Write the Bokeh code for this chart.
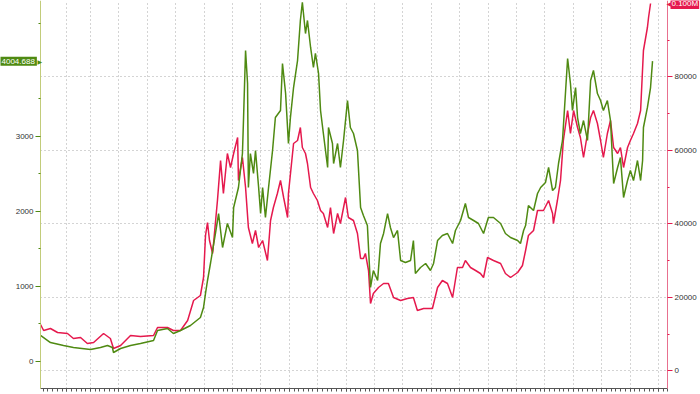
from bokeh.plotting import figure
from bokeh.models import Range1d, LinearAxis, FixedTicker, Grid, Label, CustomJSTickFormatter
from bokeh.embed import file_html
from bokeh.resources import INLINE

# ---- data (decimal years) ----
green_x = [1998.24, 1998.59, 1999.05, 1999.40, 2000.00, 2000.35, 2000.60, 2000.77, 2000.81, 2001.06,
           2001.41, 2001.76, 2002.22, 2002.36, 2002.71, 2002.92, 2003.17, 2003.52, 2003.87, 2003.98,
           2004.05, 2004.12, 2004.23, 2004.40, 2004.51, 2004.65, 2004.82, 2005.00, 2005.04, 2005.21,
           2005.35, 2005.39, 2005.46, 2005.53, 2005.56, 2005.63, 2005.74, 2005.81, 2005.92, 2005.99,
           2006.06, 2006.16, 2006.27, 2006.41, 2006.51, 2006.69, 2006.76, 2006.87, 2006.97, 2007.04,
           2007.15, 2007.29, 2007.39, 2007.46, 2007.57, 2007.64, 2007.75, 2007.85, 2007.92, 2008.03,
           2008.10, 2008.20, 2008.35, 2008.38, 2008.52, 2008.56, 2008.70, 2008.80, 2008.91, 2009.05,
           2009.15, 2009.26, 2009.40, 2009.51, 2009.61, 2009.75, 2009.86, 2009.96, 2010.11, 2010.21,
           2010.32, 2010.46, 2010.56, 2010.67, 2010.81, 2010.92, 2011.09, 2011.27, 2011.37, 2011.44,
           2011.62, 2011.80, 2011.97, 2012.08, 2012.22, 2012.39, 2012.57, 2012.75, 2012.85, 2013.03,
           2013.20, 2013.31, 2013.49, 2013.66, 2013.84, 2014.01, 2014.19, 2014.44, 2014.61, 2014.79,
           2015.04, 2015.14, 2015.25, 2015.32, 2015.42, 2015.60, 2015.74, 2015.85, 2016.02, 2016.13,
           2016.27, 2016.37, 2016.48, 2016.62, 2016.73, 2016.80, 2016.90, 2016.97, 2017.08, 2017.15,
           2017.25, 2017.36, 2017.50, 2017.61, 2017.71, 2017.85, 2017.96, 2018.06, 2018.20, 2018.31,
           2018.42, 2018.56, 2018.66, 2018.77, 2018.91, 2019.01, 2019.12, 2019.26, 2019.37, 2019.44,
           2019.47, 2019.61, 2019.72, 2019.79]
green_y = [347, 253, 213, 187, 160, 187, 213, 187, 120, 173,
           213, 240, 280, 413, 440, 373, 413, 480, 587, 720,
           907, 1080, 1320, 1707, 1973, 1520, 1840, 1653, 2053, 2320,
           2773, 3253, 4147, 3707, 2320, 2773, 2507, 2813, 2320, 1973,
           2320, 1920, 2320, 2813, 3253, 3347, 3973, 3573, 2907, 3253,
           3653, 4013, 4547, 4790, 4373, 4547, 4187, 3920, 4107, 3840,
           3347, 3040, 2587, 3120, 2907, 2640, 2907, 2587, 2947, 3480,
           3120, 3040, 2813, 2053, 1947, 1813, 987, 1213, 1080, 1573,
           1707, 1973, 1787, 1653, 1747, 1347, 1320, 1347, 1613, 1173,
           1253, 1307, 1213, 1307, 1613, 1680, 1707, 1573, 1747, 1880,
           2107, 1920, 1880, 1840, 1707, 1920, 1920, 1840, 1707, 1653,
           1613, 1573, 1747, 1813, 2080, 2013, 2240, 2320, 2387, 2587,
           2280, 2320, 2640, 2947, 3613, 4040, 3707, 3347, 3653, 3253,
           3040, 3213, 2947, 3747, 3880, 3573, 3480, 3347, 3480, 3213,
           2373, 2587, 2720, 2187, 2413, 2547, 2413, 2680, 2413, 2680,
           3120, 3387, 3653, 4004.688]

red_x = [1998.24, 1998.35, 1998.59, 1998.84, 1999.19, 1999.40, 1999.65, 1999.89, 2000.11, 2000.46,
         2000.70, 2000.81, 2001.06, 2001.41, 2001.76, 2002.22, 2002.36, 2002.71, 2002.92, 2003.17,
         2003.42, 2003.63, 2003.87, 2003.98, 2004.05, 2004.12, 2004.19, 2004.30, 2004.47, 2004.58,
         2004.68, 2004.82, 2004.93, 2005.04, 2005.18, 2005.21, 2005.35, 2005.46, 2005.56, 2005.70,
         2005.81, 2005.92, 2006.06, 2006.23, 2006.34, 2006.44, 2006.58, 2006.69, 2006.80, 2006.94,
         2006.97, 2007.15, 2007.29, 2007.39, 2007.46, 2007.57, 2007.64, 2007.75, 2007.85, 2007.99,
         2008.10, 2008.20, 2008.35, 2008.45, 2008.56, 2008.70, 2008.80, 2008.98, 2009.08, 2009.26,
         2009.40, 2009.51, 2009.61, 2009.68, 2009.79, 2009.86, 2009.96, 2010.14, 2010.32, 2010.49,
         2010.67, 2010.92, 2011.16, 2011.37, 2011.51, 2011.73, 2012.04, 2012.22, 2012.39, 2012.57,
         2012.75, 2012.92, 2013.10, 2013.20, 2013.38, 2013.56, 2013.73, 2013.84, 2013.98, 2014.19,
         2014.44, 2014.61, 2014.79, 2015.04, 2015.21, 2015.32, 2015.42, 2015.60, 2015.74, 2015.95,
         2016.13, 2016.27, 2016.30, 2016.44, 2016.55, 2016.65, 2016.80, 2016.83, 2016.90, 2017.01,
         2017.15, 2017.25, 2017.36, 2017.50, 2017.61, 2017.71, 2017.85, 2017.96, 2018.06, 2018.20,
         2018.31, 2018.42, 2018.56, 2018.66, 2018.77, 2018.91, 2019.01, 2019.12, 2019.26, 2019.37,
         2019.47, 2019.61, 2019.65, 2019.72]
red_y = [12653, 11020, 11564, 10476, 10204, 8843, 9115, 7483, 7755, 10204,
         8843, 6122, 6939, 9660, 9388, 9660, 11837, 11837, 11020, 11020,
         13741, 19183, 20544, 25441, 36870, 40407, 35510, 31972, 46394, 57278,
         48299, 59183, 55374, 59183, 63537, 51837, 58095, 49932, 39048, 34694,
         38231, 33605, 35510, 30068, 40952, 44490, 48299, 51837, 47211, 41769,
         48299, 61905, 62721, 66258, 60816, 59183, 56463, 49932, 48299, 46394,
         43673, 42857, 39048, 44490, 37415, 42857, 40136, 47211, 41769, 40952,
         37415, 30612, 30612, 32000, 27347, 18367, 21088, 22721, 23809, 23809,
         20000, 19183, 19728, 20000, 16463, 17006, 17006, 22721, 24626, 23809,
         20000, 28163, 28163, 30068, 28163, 27347, 26531, 25442, 30884, 30068,
         29251, 26531, 25442, 26803, 28707, 32789, 36870, 38231, 43673, 43673,
         46394, 42857, 40136, 46394, 51837, 62721, 70884, 68980, 64625, 70884,
         66258, 63537, 58095, 64625, 68980, 70884, 67347, 62721, 58095, 64625,
         68163, 60816, 59183, 60816, 55374, 60816, 62721, 64625, 67347, 70884,
         87211, 93469, 96190, 100000]

left_ticks = [0, 1000, 2000, 3000]
left_minor = [500, 1500, 2500, 3500, 4500]
right_ticks = [0, 20000, 40000, 60000, 80000]
right_minor = [10000, 30000, 50000, 70000, 90000]
year_ticks = [1999 + 1 / 6] + list(range(2000, 2021))
year_minor = [1998 + k / 6 for k in range(2, 135)]
green_last = "4004.688"
red_last = "0.100M"

GREEN = "#4f8a12"
RED = "#e5194d"
GRID = "#a8a8a8"

# plotting area limits (the frame fills the whole canvas; axes sit at fixed locations)
X0, X1 = 1998.239, 2020.317          # left / right axis positions
G0, G1 = -360, 4813.33               # green scale: bottom axis .. top
R0, R1 = -4762, 100816               # red scale: bottom axis .. top

p = figure(width=700, height=394, output_backend="svg", toolbar_location=None,
           x_range=Range1d(1996.831, 2021.479), y_range=Range1d(-440, 4813.33),
           min_border_left=0, min_border_right=0, min_border_top=0, min_border_bottom=0)
p.extra_y_ranges = {"red": Range1d(-6395, 100816)}
p.outline_line_color = None
p.background_fill_color = "white"
p.border_fill_color = "white"

# bottom axis (ticks only)
xa = p.xaxis[0]
xa.fixed_location = G0
xa.bounds = (X0, X1)
xa.ticker = FixedTicker(ticks=year_ticks, minor_ticks=year_minor)
xa.formatter = CustomJSTickFormatter(code="return ''")
xa.major_label_standoff = 0
xa.axis_line_color = "#555555"
xa.major_tick_line_color = "#555555"
xa.minor_tick_line_color = "#555555"
xa.major_tick_in = 0
xa.major_tick_out = 3
xa.minor_tick_in = 0
xa.minor_tick_out = 3

# left axis
ya = p.yaxis[0]
ya.fixed_location = X0
ya.bounds = (G0, G1)
ya.ticker = FixedTicker(ticks=left_ticks, minor_ticks=left_minor)
ya.axis_line_color = "#c2cc7a"
ya.major_tick_line_color = GREEN
ya.minor_tick_line_color = GREEN
ya.major_tick_in = 0
ya.major_tick_out = 5
ya.minor_tick_in = 0
ya.minor_tick_out = 2
ya.major_label_standoff = 2
ya.major_label_text_font = "Liberation Sans"
ya.major_label_text_font_size = "8px"
ya.major_label_text_color = "#333333"

# right axis
ra = LinearAxis(y_range_name="red", ticker=FixedTicker(ticks=right_ticks, minor_ticks=right_minor))
ra.fixed_location = X1
ra.bounds = (R0, R1)
ra.axis_line_color = "#e8708f"
ra.major_tick_line_color = RED
ra.minor_tick_line_color = RED
ra.major_tick_in = 0
ra.major_tick_out = 5
ra.minor_tick_in = 0
ra.minor_tick_out = 2
ra.major_label_standoff = 2
ra.major_label_text_font = "Liberation Sans"
ra.major_label_text_font_size = "8px"
ra.major_label_text_color = "#333333"
p.add_layout(ra, "right")

# grids
p.xgrid.grid_line_color = GRID
p.xgrid.grid_line_dash = "1 3"
p.xgrid.cross_bounds = (G0, G1)
p.ygrid.visible = False
hg = Grid(dimension=1, ticker=ra.ticker, y_range_name="red",
          grid_line_color=GRID, grid_line_dash="1 3", cross_bounds=(X0, X1))
p.add_layout(hg, "center")

# lines
p.line(red_x, red_y, y_range_name="red", line_color=RED, line_width=1.5)
p.line(green_x, green_y, line_color=GREEN, line_width=1.5)

# last-value labels
p.add_layout(Label(x=-1, y=4004.688, x_units="screen", text=green_last,
                   text_font="Liberation Sans", text_font_size="8px", text_color="white",
                   text_baseline="middle", text_align="left",
                   background_fill_color=GREEN, padding=2))
p.add_layout(Label(x=37, y=4004.688, x_units="screen", text="\u25b6",
                   text_font="DejaVu Sans", text_font_size="6px", text_color=GREEN,
                   text_baseline="middle", text_align="left"))
p.add_layout(Label(x=670, y=100000, x_units="screen", y_range_name="red", text=red_last,
                   text_font="Liberation Sans", text_font_size="8px", text_color="white",
                   text_baseline="middle", text_align="left",
                   background_fill_color=RED, padding=1))
p.add_layout(Label(x=666, y=100000, x_units="screen", y_range_name="red", text="\u25c0",
                   text_font="DejaVu Sans", text_font_size="6px", text_color=RED,
                   text_baseline="middle", text_align="left"))

open("out.html", "w").write(file_html(p, INLINE))
